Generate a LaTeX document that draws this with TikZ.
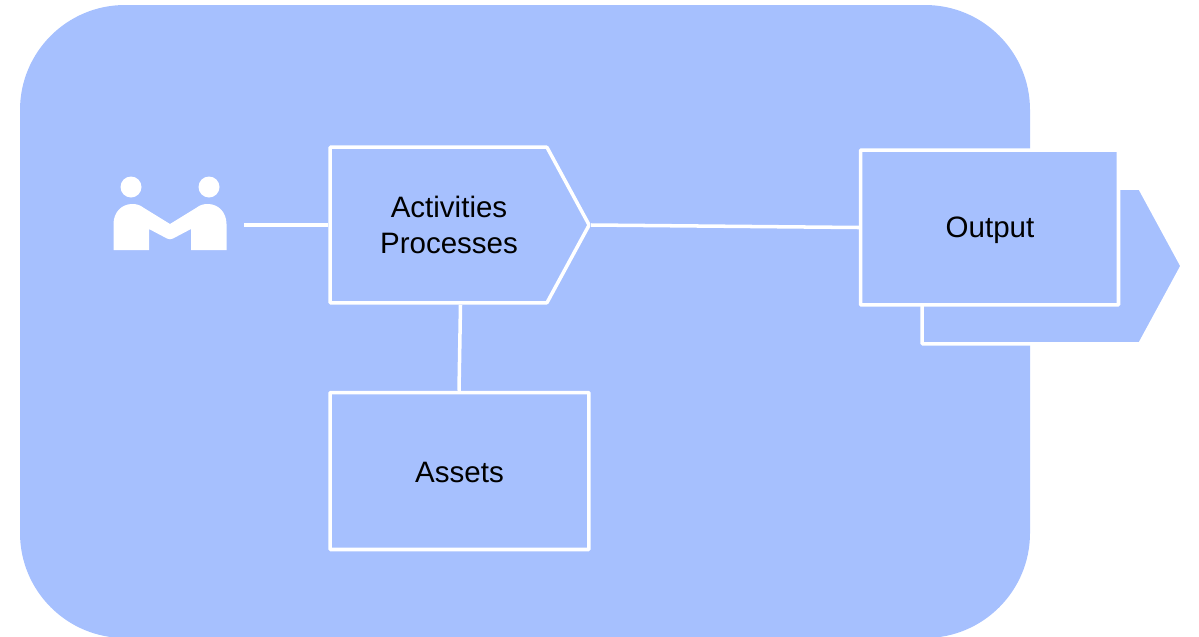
\documentclass[tikz,border=0pt]{standalone}
\usepackage{fontspec}
\setmainfont{Liberation Sans}
\usetikzlibrary{shapes.symbols}
\definecolor{paleblue}{RGB}{166,192,254}
\tikzset{
	whitebox/.style={draw=white, line width=2pt, fill=paleblue, rounded corners=0.5pt, inner sep=0pt},
	chevronbox/.style={whitebox, shape=signal, signal to=east, signal from=nowhere, signal pointer angle=123},
	link/.style={draw=white, line width=2pt},
	caption/.style={font=\fontsize{16.8}{20.4}\selectfont, align=center, inner sep=0pt}
}

\begin{document}
\begin{tikzpicture}[x=0.02cm, y=-0.02cm]
	%%%%% BACKGROUND %%%%%
	\useasboundingbox (0, 0) rectangle (1199, 636);
	\fill[paleblue, rounded corners=2.1cm] (20, 5) rectangle (1030, 638);

	%%%%% OUTPUT %%%%%
	\node[chevronbox, minimum width=5.2cm, minimum height=3.12cm] (backing) at (1031, 266) {};
	\node[whitebox, minimum width=5.16cm, minimum height=3.1cm] (output) at (989.5, 227.5) {};
	\node[caption] (outputlabel) at (990, 230.5) {Output};

	%%%%% ACTIVITIES %%%%%
	\node[chevronbox, minimum width=5.18cm, minimum height=3.12cm] (activities) at (438.5, 225) {};
	\node[caption] (activitieslabel) at (449, 225) {Activities\\Processes};

	%%%%% ASSETS %%%%%
	\node[whitebox, minimum width=5.18cm, minimum height=3.14cm] (assets) at (459.5, 471) {};
	\node[caption] (assetslabel) at (459.5, 472.5) {Assets};

	%%%%% HANDSHAKE %%%%%
	\fill[white] (131, 187) circle (10.5);
	\fill[white] (209, 187) circle (10.5);
	\fill[white] (113.5, 250) -- (113.5, 224)
		.. controls (113.5, 212) and (122, 204) .. (132, 204)
		.. controls (137, 204) and (140, 205) .. (144, 208)
		-- (170, 224) -- (196, 208)
		.. controls (200, 205) and (203, 204) .. (208, 204)
		.. controls (218, 204) and (226.5, 212) .. (226.5, 224)
		-- (226.5, 250) -- (191, 250) -- (191, 229) -- (173, 238.5)
		.. controls (171, 239.5) and (169, 239.5) .. (167, 238.5)
		-- (149, 229) -- (149, 250) -- cycle;
	\coordinate (handshake) at (244, 225);

	%%%%% LINKS %%%%%
	\draw[link] (handshake) -- (activities.west);
	\draw[link] (activities.east) -- (output.west);
	\draw[link] ([xshift=0.44cm]activities.south) -- ([xshift=-0.01cm]assets.north);
\end{tikzpicture}
\end{document}
